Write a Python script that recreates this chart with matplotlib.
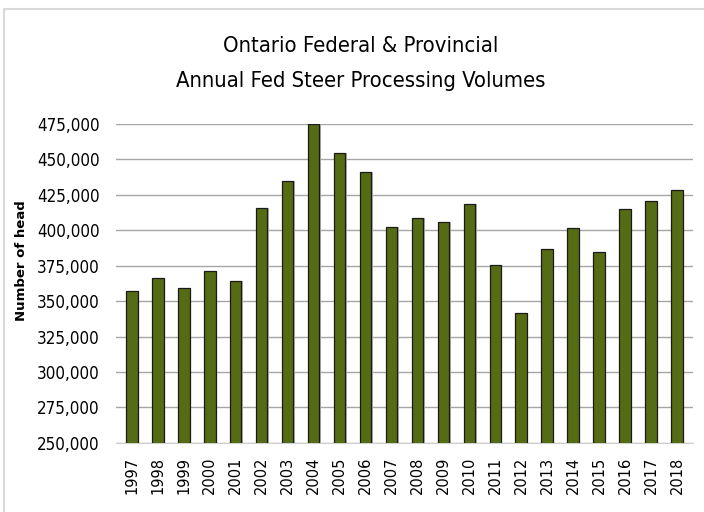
import matplotlib.pyplot as plt
from matplotlib import font_manager
from matplotlib.patches import Rectangle
from matplotlib.ticker import FuncFormatter

# years and fed steer volumes (head)
years = ['1997', '1998', '1999', '2000', '2001', '2002', '2003', '2004', '2005', '2006', '2007',
         '2008', '2009', '2010', '2011', '2012', '2013', '2014', '2015', '2016', '2017', '2018']
volumes = [357000, 366000, 359000, 371500, 364000, 415500, 435000, 475000, 454500, 441000, 402500,
           408500, 405500, 418500, 375500, 341500, 386500, 401500, 384500, 415000, 420500, 428500]

cond = font_manager.FontProperties(family='DejaVu Sans', stretch='condensed')

fig = plt.figure(figsize=(7.04, 5.12), dpi=100)
fig.patches.append(Rectangle((0.006, -0.1), 1.1, 1.082, transform=fig.transFigure,
                             fill=False, edgecolor='#d9d9d9', linewidth=1.5))

ax = fig.add_axes([0.165, 0.135, 0.819, 0.623])
x = range(len(years))

# soft shadow behind each bar
ax.bar([i + 0.05 for i in x], volumes, width=0.45, color='#b0b0b0', zorder=2)
ax.bar(x, volumes, width=0.45, color='#556b14', edgecolor='#1a1a1a', linewidth=0.9, zorder=3)

ax.set_ylim(250000, 475000)
ax.set_xlim(-0.6, len(years) - 0.4)
ax.set_yticks(range(250000, 475001, 25000))
ax.yaxis.set_major_formatter(FuncFormatter(lambda v, p: f'{int(v):,}'))
ax.set_xticks(list(x))
ax.set_xticklabels(years, rotation=90, fontsize=10.5)
for lbl in ax.get_yticklabels():
    lbl.set_fontproperties(cond)
    lbl.set_fontsize(12.2)
ax.tick_params(axis='y', length=0, pad=12)
ax.tick_params(axis='x', length=0, pad=10)
ax.grid(axis='y', color='#a6a6a6', linewidth=1.0, zorder=0)
for s in ['top', 'right', 'left']:
    ax.spines[s].set_visible(False)
ax.spines['bottom'].set_color('#d0d0d0')
ax.set_ylabel('Number of head', fontsize=9.5, fontweight='bold')
ax.yaxis.set_label_coords(-0.153, 0.57)

fig.text(0.513, 0.91, 'Ontario Federal & Provincial', ha='center', va='center',
         fontsize=15.8, fontproperties=cond)
fig.text(0.513, 0.842, 'Annual Fed Steer Processing Volumes', ha='center', va='center',
         fontsize=15.8, fontproperties=cond)

fig.savefig('out.png', dpi=100)
